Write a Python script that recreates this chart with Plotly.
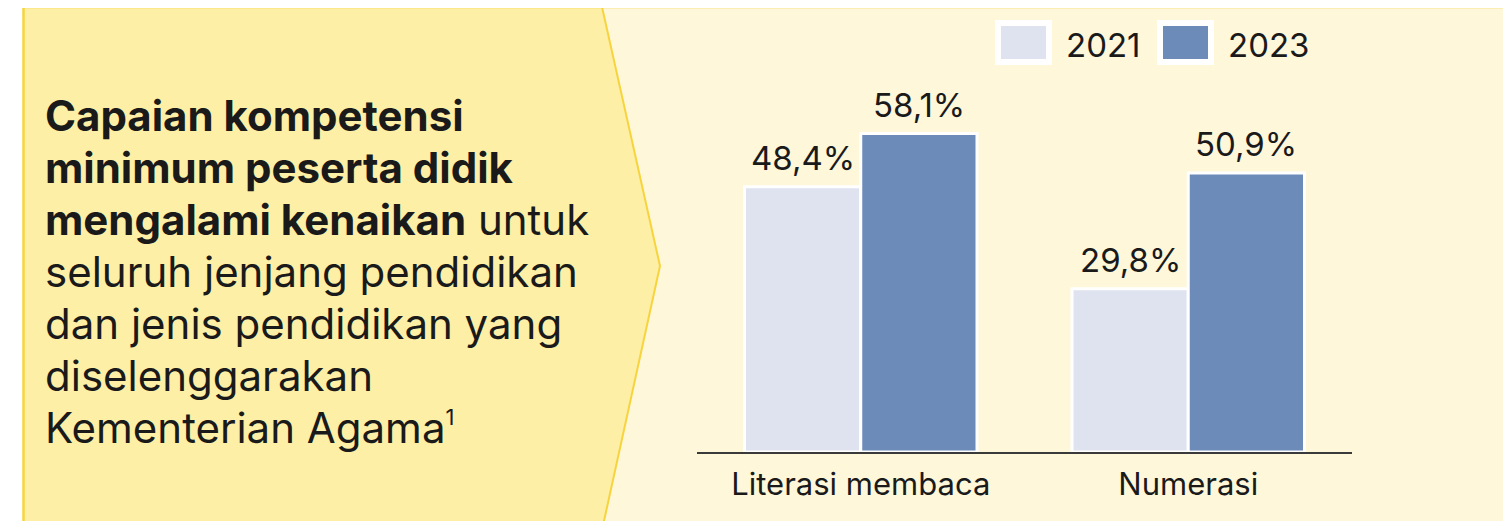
import plotly.graph_objects as go

# ---- data ----
categories = ["Literasi membaca", "Numerasi"]
years = ["2021", "2023"]
values_2021 = [48.4, 29.8]
values_2023 = [58.1, 50.9]
bar_colors = ["#DFE3EF", "#6C8BB9"]

title_lines = [
    "<b>Capaian kompetensi</b>",
    "<b>minimum peserta didik</b>",
    "<b>mengalami kenaikan</b> untuk",
    "seluruh jenjang pendidikan",
    "dan jenis pendidikan yang",
    "diselenggarakan",
    "Kementerian Agama<sup><span style='font-size:22px'>1</span></sup>",
]

# page body has an 8px margin; work in reference pixel coordinates
OFF = 8
W, H = 1511 - OFF, 521 - OFF
ML = 697 - OFF
MR = W - (1352 - OFF)
MT = 24 - OFF
MB = H - (452 - OFF)
PW, PH = W - ML - MR, H - MT - MB


def px(x):
    return (x - OFF - ML) / PW


def py(y):
    return (H - MB - (y - OFF)) / PH


FONT = "Inter"
TXT = "#1a1a1a"

fig = go.Figure()
series = [values_2021, values_2023]
for name, vals, col in zip(years, series, bar_colors):
    fig.add_trace(go.Bar(
        x=categories, y=vals, name=name,
        marker=dict(color=col, line=dict(color="white", width=3)),
        showlegend=False, hoverinfo="skip",
    ))

annotations = []
# data labels
for i, vals in enumerate(series):
    shift = -58 if i == 0 else 58
    for c, v in zip(categories, vals):
        annotations.append(dict(
            x=c, y=v, xref="x", yref="y", xshift=shift, yshift=7,
            text=f"{v:.1f}".replace(".", ",") + "%",
            showarrow=False, yanchor="bottom", xanchor="center",
            font=dict(family=FONT, size=33, color=TXT),
        ))

# left panel text, one annotation per line (52px line pitch)
for k, line in enumerate(title_lines):
    annotations.append(dict(
        x=px(43), y=py(115 + 52 * k), xref="paper", yref="paper",
        xanchor="left", yanchor="middle", align="left", showarrow=False,
        text=line,
        font=dict(family=FONT, size=42, color=TXT),
    ))

shapes = []
# cream background
shapes.append(dict(type="rect", xref="paper", yref="paper", layer="below",
                   x0=px(23), x1=px(1520), y0=py(530), y1=py(7),
                   fillcolor="#FEF7DA", line=dict(width=0)))
# left arrow panel
path = (f"M{px(23)},{py(7)} L{px(602)},{py(7)} L{px(660)},{py(266)} "
        f"L{px(602)},{py(530)} L{px(23)},{py(530)} Z")
shapes.append(dict(type="path", xref="paper", yref="paper", layer="below",
                   path=path, fillcolor="#FDEFA6", line=dict(width=0)))
# borders
bc = "#F7D43E"
shapes.append(dict(type="line", xref="paper", yref="paper", layer="below",
                   x0=px(22), x1=px(1520), y0=py(7), y1=py(7),
                   line=dict(color=bc, width=2.5)))
shapes.append(dict(type="line", xref="paper", yref="paper", layer="below",
                   x0=px(23.5), x1=px(23.5), y0=py(7), y1=py(530),
                   line=dict(color=bc, width=2.5)))
shapes.append(dict(type="path", xref="paper", yref="paper", layer="below",
                   path=f"M{px(602)},{py(7)} L{px(660)},{py(266)} L{px(602)},{py(530)}",
                   line=dict(color=bc, width=2)))

# custom legend
leg_x = [998, 1160]
for name, col, lx in zip(years, bar_colors, leg_x):
    shapes.append(dict(type="rect", xref="paper", yref="paper",
                       x0=px(lx), x1=px(lx + 51), y0=py(62), y1=py(23),
                       fillcolor=col, line=dict(color="white", width=6)))
    annotations.append(dict(
        x=px(lx + 66), y=py(45), xref="paper", yref="paper",
        xanchor="left", yanchor="middle", showarrow=False, text=name,
        font=dict(family=FONT, size=33, color=TXT),
    ))

fig.update_layout(
    width=W, height=H,
    margin=dict(l=ML, r=MR, t=MT, b=MB, pad=0),
    paper_bgcolor="white", plot_bgcolor="rgba(0,0,0,0)",
    barmode="group", bargap=0.29, bargroupgap=0,
    shapes=shapes, annotations=annotations,
    xaxis=dict(showline=True, linecolor="#3a3a3a", linewidth=2,
               showgrid=False, ticks="", zeroline=False,
               tickfont=dict(family=FONT, size=31, color=TXT),
               ticklabelstandoff=4),
    yaxis=dict(range=[0, PH / 5.48], visible=False, showgrid=False),
)

fig.write_html("out.html")
